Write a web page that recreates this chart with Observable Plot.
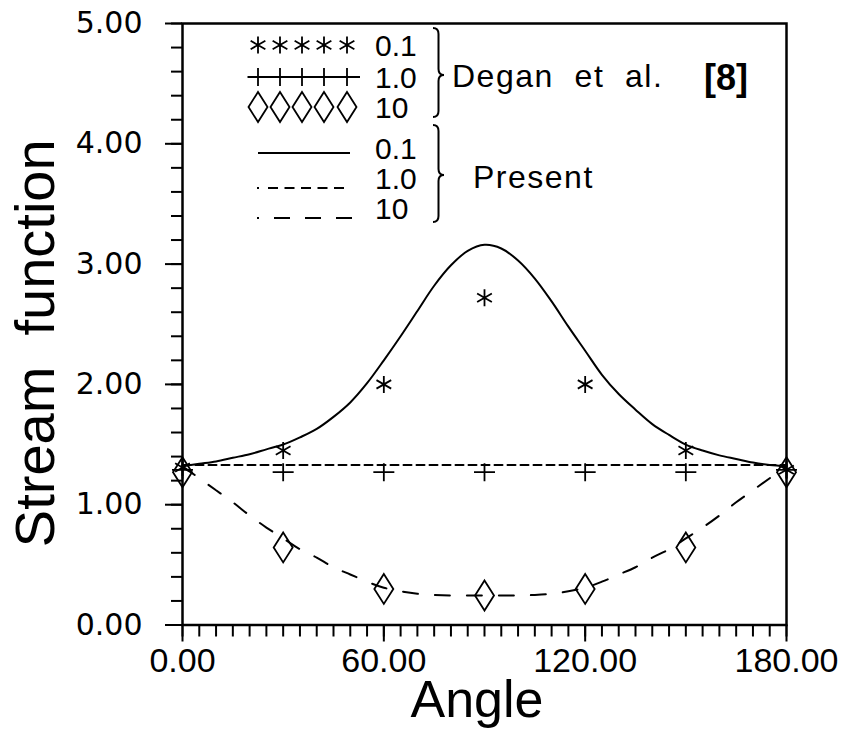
<!DOCTYPE html>
<html><head><meta charset="utf-8">
<script src="https://cdn.jsdelivr.net/npm/d3@7"></script>
<script src="https://cdn.jsdelivr.net/npm/@observablehq/plot@0.6"></script>
<style>body{margin:0;background:#fff} svg{display:block} text{white-space:pre}</style>
</head><body><div id="chart"></div>
<script>
// ---- data ----
const markerAngles = [0, 30, 60, 90, 120, 150, 180];
const degan01 = [1.31, 1.45, 2.00, 2.72, 2.00, 1.45, 1.29];
const degan1  = [1.29, 1.27, 1.27, 1.27, 1.27, 1.27, 1.29];
const degan10 = [1.27, 0.645, 0.30, 0.245, 0.30, 0.645, 1.27];

const curveAngles = [0,5,10,15,20,25,30,35,40,45,50,55,60,65,70,75,80,85,90,95,100,105,110,115,120,125,130,135,140,145,150,155,160,165,170,175,180];
const present01 = [1.32,1.34,1.36,1.39,1.42,1.46,1.50,1.56,1.63,1.73,1.85,2.01,2.20,2.40,2.61,2.82,2.99,3.11,3.16,3.13,3.03,2.88,2.69,2.48,2.28,2.08,1.92,1.79,1.67,1.58,1.50,1.45,1.41,1.38,1.35,1.33,1.32];
const present1  = [1.33,1.33,1.33,1.33,1.33,1.33,1.33,1.33,1.33,1.33,1.33,1.33,1.33,1.33,1.33,1.33,1.33,1.33,1.33,1.33,1.33,1.33,1.33,1.33,1.33,1.33,1.33,1.33,1.33,1.33,1.33,1.33,1.33,1.33,1.33,1.33,1.33];
const present10 = [1.32,1.22,1.12,1.02,0.91,0.81,0.72,0.63,0.56,0.48,0.42,0.36,0.31,0.28,0.26,0.25,0.245,0.245,0.245,0.245,0.245,0.25,0.26,0.28,0.31,0.36,0.42,0.48,0.56,0.63,0.72,0.81,0.91,1.02,1.12,1.22,1.32];

const xTicks = [0, 60, 120, 180];
const yTicks = [0, 1, 2, 3, 4, 5];
const seriesLabels = ["0.1", "1.0", "10"];
const xLabel = "Angle";
const yLabel = "Stream  function";
const deganLabel = "Degan  et  al.";
const refLabel = "[8]";
const presentLabel = "Present";

// ---- tables ----
const markers = markerAngles.map((a, i) => ({a, s01: degan01[i], s1: degan1[i], s10: degan10[i]}));
const curves = curveAngles.map((a, i) => ({a, p01: present01[i], p1: present1[i], p10: present10[i]}));

// ---- custom symbols ----
const asterisk = {draw(ctx) {
  const r = 8.5;
  for (const deg of [90, 30, 150]) {
    const t = deg * Math.PI / 180;
    ctx.moveTo(r * Math.cos(t), r * Math.sin(t));
    ctx.lineTo(-r * Math.cos(t), -r * Math.sin(t));
  }
}};
const plus = {draw(ctx) {
  ctx.moveTo(-10.5, 0); ctx.lineTo(10.5, 0);
  ctx.moveTo(0, -9); ctx.lineTo(0, 9);
}};
const diamond = {draw(ctx) {
  ctx.moveTo(0, -15); ctx.lineTo(9.5, 0); ctx.lineTo(0, 15); ctx.lineTo(-9.5, 0); ctx.closePath();
}};

const FONT = "Liberation Sans";
const plot = Plot.plot({
  width: 841, height: 737,
  marginLeft: 182, marginRight: 55, marginTop: 23, marginBottom: 112.5,
  style: {fontFamily: FONT, color: "black", background: "white"},
  x: {domain: [0, 180]},
  y: {domain: [0, 5]},
  marks: [
    Plot.axisX({interval: 5, tickSize: 12, strokeWidth: 2, tickFormat: () => "", label: null}),
    Plot.axisX({ticks: xTicks, tickSize: 17, tickPadding: 5.5, strokeWidth: 2, tickFormat: d3.format(".2f"), fontSize: 34, label: null}),
    Plot.axisY({interval: 0.2, tickSize: 11, strokeWidth: 2, tickFormat: () => "", label: null}),
    Plot.axisY({ticks: yTicks, tickSize: 17, tickPadding: 23, strokeWidth: 2, tickFormat: d3.format(".2f"), fontSize: 30, letterSpacing: 1, fontFamily: "DejaVu Sans", label: null}),
    Plot.frame({stroke: "black", strokeWidth: 2.5}),
    Plot.line(curves, {x: "a", y: "p01", curve: "catmull-rom", stroke: "black", strokeWidth: 2}),
    Plot.line(curves, {x: "a", y: "p1", stroke: "black", strokeWidth: 2, strokeDasharray: "8,5"}),
    Plot.line(curves, {x: "a", y: "p10", curve: "catmull-rom", stroke: "black", strokeWidth: 2, strokeDasharray: "15,17"}),
    Plot.dot(markers, {x: "a", y: "s01", symbol: asterisk, r: 5, stroke: "black", fill: "none", strokeWidth: 1.8}),
    Plot.dot(markers, {x: "a", y: "s1", symbol: plus, r: 5, stroke: "black", fill: "none", strokeWidth: 1.8}),
    Plot.dot(markers, {x: "a", y: "s10", symbol: diamond, r: 5, stroke: "black", fill: "none", strokeWidth: 1.8}),
    Plot.text([xLabel], {frameAnchor: "bottom", textAnchor: "middle", lineAnchor: "top", dy: 55.5, dx: -7.5, fontSize: 52, letterSpacing: 2, fill: "black"}),
    Plot.text([yLabel], {frameAnchor: "left", textAnchor: "middle", lineAnchor: "middle", rotate: -90, dx: -146.7, dy: 19, fontSize: 56, letterSpacing: 2.4, fill: "black"})
  ]
});
document.getElementById("chart").appendChild(plot);

// ---- in-plot legend ----
const svg = d3.select(plot);
const lg = svg.append("g").attr("class", "legend").attr("text-anchor", "start");
const symXs = [258, 280, 302, 324, 347];
function symPath(sym) { const p = d3.path(); sym.draw(p, 0); return p.toString(); }
const rowY = [45, 77, 107, 148, 178, 208];
// symbol rows
[[asterisk, rowY[0]], [plus, rowY[1]], [diamond, rowY[2]]].forEach(([sym, y]) => {
  symXs.forEach(x => lg.append("path").attr("d", symPath(sym)).attr("transform", `translate(${x},${y})`)
    .attr("fill", "none").attr("stroke", "black").attr("stroke-width", 1.8));
});
lg.append("line").attr("x1", 248).attr("x2", 360).attr("y1", rowY[1]).attr("y2", rowY[1]).attr("stroke", "black").attr("stroke-width", 1.8);
// line rows
lg.append("line").attr("x1", 258).attr("x2", 350).attr("y1", 153).attr("y2", 153).attr("stroke", "black").attr("stroke-width", 2);
lg.append("line").attr("x1", 257).attr("x2", 259).attr("y1", 188).attr("y2", 188).attr("stroke", "black").attr("stroke-width", 2);
lg.append("line").attr("x1", 268).attr("x2", 350).attr("y1", 188).attr("y2", 188).attr("stroke", "black").attr("stroke-width", 2).attr("stroke-dasharray", "10,6.5");
lg.append("line").attr("x1", 257).attr("x2", 259).attr("y1", 218).attr("y2", 218).attr("stroke", "black").attr("stroke-width", 2);
lg.append("line").attr("x1", 274).attr("x2", 352).attr("y1", 218).attr("y2", 218).attr("stroke", "black").attr("stroke-width", 2).attr("stroke-dasharray", "16,15");
// labels
function addText(x, y, size, t, weight, spacing) {
  return lg.append("text").attr("x", x).attr("y", y).attr("font-size", size).attr("font-family", FONT)
    .attr("font-weight", weight || "normal").attr("letter-spacing", spacing || 0)
    .attr("text-anchor", "start").attr("fill", "black").text(t);
}
[...seriesLabels, ...seriesLabels].forEach((t, i) => addText(375, rowY[i] + 11, 30, t));
// braces
function brace(x0, y0, y1, ym, w) {
  const xm = x0 + w / 2, r = 6;
  return `M${x0},${y0} Q${xm},${y0} ${xm},${y0 + r} L${xm},${ym - r} Q${xm},${ym} ${x0 + w},${ym} Q${xm},${ym} ${xm},${ym + r} L${xm},${y1 - r} Q${xm},${y1} ${x0},${y1}`;
}
lg.append("path").attr("d", brace(433, 28, 117, 75, 11)).attr("fill", "none").attr("stroke", "black").attr("stroke-width", 2);
lg.append("path").attr("d", brace(433, 125, 222, 175, 11)).attr("fill", "none").attr("stroke", "black").attr("stroke-width", 2);
addText(452, 87, 32, deganLabel, "normal", 1.5);
addText(704, 90, 36, refLabel, "bold");
addText(473, 188, 32, presentLabel, "normal", 1.5);
</script>
</body></html>
